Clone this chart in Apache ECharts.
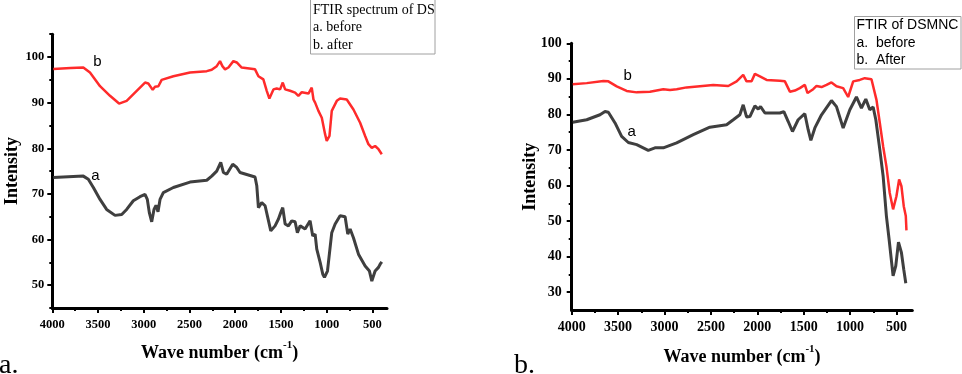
<!DOCTYPE html>
<html>
<head>
<meta charset="utf-8">
<script src="https://cdn.jsdelivr.net/npm/echarts@6/dist/echarts.min.js"></script>
<style>
html,body{margin:0;padding:0;background:#fff;}
#chart{width:962px;height:374px;}
</style>
</head>
<body>
<div id="chart"></div>
<script>
// ---------- data ----------
// Panel a: FTIR spectrum of DS
const dsBeforeWave = [3989,3661,3606,3551,3478,3406,3314,3241,3187,3114,3041,2986,2961,2939,2913,2888,2866,2844,2822,2786,2676,2494,2311,2257,2202,2158,2129,2093,2027,1983,1947,1783,1764,1746,1710,1673,1648,1611,1564,1527,1502,1480,1454,1418,1382,1345,1320,1290,1236,1181,1152,1126,1108,1071,1042,1024,991,944,907,853,798,769,743,707,652,579,532,506,470,433,415,397];
const dsBeforeInt = [73.6,73.9,73.2,71.4,68.8,66.6,65.3,65.5,66.6,68.5,69.4,69.9,68.8,65.9,63.9,66.6,67.5,66.1,68.8,70.3,71.4,72.6,73.0,73.9,75.0,76.9,74.7,74.3,76.5,75.8,74.7,73.7,71.8,67.0,68.1,67.4,65.2,61.9,63.0,64.5,65.9,67.0,63.4,63.0,64.1,63.9,61.5,63.0,62.3,64.1,60.8,61.2,57.9,55.0,52.4,51.7,53.1,61.5,63.4,65.2,65.0,61.2,62.3,60.4,56.8,54.2,53.1,50.9,53.1,53.9,54.6,55.1];
const dsAfterWave = [3989,3800,3661,3588,3478,3369,3270,3187,3077,2986,2950,2902,2877,2840,2804,2676,2494,2311,2257,2202,2166,2140,2111,2074,2020,1983,1929,1783,1746,1692,1655,1626,1582,1546,1509,1480,1454,1400,1345,1309,1272,1199,1163,1144,1126,1090,1053,1017,999,969,944,889,853,780,707,634,579,543,506,470,433,415,397];
const dsAfterInt = [97.4,97.6,97.7,96.6,93.6,91.5,89.8,90.4,92.6,94.4,94.2,92.8,93.5,93.6,95.0,95.8,96.6,96.9,97.2,98.0,99.1,98.0,97.3,97.7,99.1,98.8,97.7,97.3,95.8,95.1,92.6,90.9,92.9,93.1,92.9,94.4,92.9,92.6,92.2,91.5,92.3,92.0,93.3,90.7,90.0,88.2,86.7,83.1,81.6,82.7,88.2,90.4,90.9,90.7,88.5,85.6,82.7,80.9,80.1,80.5,79.8,79.9,78.7];

// Panel b: FTIR of DSMNC
const mncBeforeWave = [3989,3838,3695,3641,3605,3533,3462,3390,3300,3175,3103,3013,2869,2690,2511,2331,2259,2188,2152,2116,2080,2026,1990,1965,1918,1757,1714,1667,1621,1560,1488,1452,1423,1380,1308,1201,1147,1075,1003,932,878,831,788,752,723,680,644,609,580,537,508,479,447,422,400];
const mncBeforeInt = [77.8,78.5,79.9,80.8,80.6,77.6,73.8,72.1,71.5,69.9,70.6,70.6,72.0,74.3,76.4,77.1,78.5,79.9,82.7,79.3,79.4,82.4,81.5,82.2,80.4,80.4,80.8,78.0,75.2,78.5,80.2,75.7,72.7,76.2,79.9,83.9,82.2,76.2,81.3,84.9,81.8,84.3,81.3,82.1,78.5,70.1,62.6,51.4,44.9,34.6,37.4,44.1,41.1,36.4,32.5];
const mncAfterWave = [3989,3838,3659,3605,3515,3408,3300,3157,3013,2941,2869,2762,2475,2313,2223,2152,2116,2062,2026,1972,1900,1757,1703,1649,1595,1542,1488,1459,1398,1362,1308,1254,1201,1147,1075,1021,967,896,842,770,752,716,680,644,609,573,537,501,472,447,422,400,393];
const mncAfterInt = [88.5,88.8,89.4,89.3,87.9,86.6,86.2,86.4,87.1,86.9,87.1,87.6,88.3,88.0,89.3,91.1,89.3,89.3,91.4,90.7,89.7,89.5,89.3,86.4,86.7,87.4,88.3,86.0,87.1,88.0,87.7,88.3,89.0,87.9,87.4,84.9,89.3,89.7,90.2,89.9,89.7,84.1,77.6,71.0,65.4,57.9,53.3,57.0,61.7,59.8,54.2,51.4,47.4];

// tick labels
const xTickLabels = [500,1000,1500,2000,2500,3000,3500,4000];
const leftYTickLabels = [50,60,70,80,90,100];
const rightYTickLabels = [30,40,50,60,70,80,90,100];

const xTitle = 'Wave number (cm';
const yTitle = 'Intensity';
const legendA = ['FTIR spectrum of DS','a. before','b. after'];
const legendB = ['FTIR of DSMNC','a.  before','b.  After'];

// ---------- chart ----------
const SERIF = 'Liberation Serif, Times New Roman, serif';
const SANS = 'Liberation Sans, Arial, sans-serif';
const RED = '#ff2b2b';
const GRAY = '#3f3f3f';
const TICK = {color:'#000', width:2};

function pairs(w, v){ return w.map((x,i)=>[x, v[i]]); }
const plain = v => String(v);

function xName(gap){
  return {
    name:'{n|' + xTitle + '}{s|-1}{n|)}', nameLocation:'middle', nameGap:gap,
    nameTextStyle:{rich:{
      n:{fontFamily:SERIF, fontWeight:'bold', fontSize:18, color:'#000', lineHeight:22, verticalAlign:'bottom'},
      s:{fontFamily:SERIF, fontWeight:'bold', fontSize:11, color:'#000', lineHeight:12, verticalAlign:'top'}
    }}
  };
}
function yName(gap){
  return {name:yTitle, nameLocation:'middle', nameRotate:90, nameGap:gap,
    nameTextStyle:{fontFamily:SERIF, fontWeight:'bold', fontSize:18, color:'#000'}};
}
function legendBox(x, y, w, h, lines, font, x0, y0){
  const children = [{type:'rect', shape:{x:x, y:y, width:w, height:h}, style:{fill:'#fff', stroke:'#a0a0a0', lineWidth:1}}];
  lines.forEach((t,i)=>{
    children.push({type:'text', x:x0, y:y0 + i*17.5, style:{text:t, font:font, fill:'#000', textVerticalAlign:'middle', textAlign:'left'}});
  });
  return {type:'group', children:children};
}
function lab(t, x, y, font){
  return {type:'text', x:x, y:y, style:{text:t, font:font, fill:'#000', textAlign:'center', textVerticalAlign:'middle'}};
}
const AXLINE = {show:true, onZero:false, lineStyle:{color:'#000', width:3}};
const HIDDENLINE = {show:true, onZero:false, lineStyle:{color:'#000', width:1, opacity:0}};

const chart = echarts.init(document.getElementById('chart'), null, {renderer:'canvas'});
chart.setOption({
  animation:false,
  backgroundColor:'#fff',
  grid:[
    // 0: left data grid (x 4000..340, y 45..105)
    {left:52.3, right:575, top:34.2, bottom:66},
    // 1: left tick helper (x 4000..500)
    {left:52.3, right:589.6, top:34.2, bottom:66},
    // 2: right data grid (x 4000..330, y 25..100)
    {left:571.7, right:49.7, top:43.3, bottom:64},
    // 3: right tick helper (x 4000..500, y 30..100)
    {left:571.7, right:65.5, top:43.3, bottom:81.8}
  ],
  xAxis:[
    Object.assign({type:'value', gridIndex:0, min:340, max:4000, inverse:true, position:'bottom',
      axisLine:AXLINE, axisTick:{show:false}, axisLabel:{show:false}, splitLine:{show:false}}, xName(32)),
    {type:'value', gridIndex:1, min:500, max:4000, interval:500, inverse:true, position:'bottom',
      axisLine:HIDDENLINE, axisTick:{show:true, length:5, lineStyle:TICK},
      minorTick:{show:true, splitNumber:2, length:3, lineStyle:TICK},
      axisLabel:{formatter:plain, fontFamily:SERIF, fontWeight:'bold', fontSize:12.5, color:'#000', margin:10},
      splitLine:{show:false}},
    Object.assign({type:'value', gridIndex:2, min:330, max:4000, inverse:true, position:'bottom',
      axisLine:AXLINE, axisTick:{show:false}, axisLabel:{show:false}, splitLine:{show:false}}, xName(34)),
    {type:'value', gridIndex:3, min:500, max:4000, interval:500, inverse:true, position:'bottom', offset:17.8,
      axisLine:HIDDENLINE, axisTick:{show:true, length:5, lineStyle:TICK},
      minorTick:{show:true, splitNumber:2, length:3, lineStyle:TICK},
      axisLabel:{formatter:plain, fontFamily:SERIF, fontWeight:'bold', fontSize:14, color:'#000', margin:10},
      splitLine:{show:false}}
  ],
  yAxis:[
    // ticks counted from 45 every 10 -> 45,55,...,105 (short); minor ticks fall on 50..100 (long)
    Object.assign({type:'value', gridIndex:0, min:45, max:105, interval:10, position:'left',
      axisLine:AXLINE, axisTick:{show:true, length:3, lineStyle:TICK},
      minorTick:{show:true, splitNumber:2, length:5, lineStyle:TICK},
      axisLabel:{customValues:leftYTickLabels, formatter:plain, fontFamily:SERIF, fontWeight:'bold', fontSize:12.5, color:'#000', margin:8},
      splitLine:{show:false}, minorSplitLine:{show:false}}, yName(28)),
    {type:'value', gridIndex:1, min:45, max:105, show:false},
    Object.assign({type:'value', gridIndex:2, min:25, max:100, position:'left',
      axisLine:AXLINE, axisTick:{show:false}, axisLabel:{show:false}, splitLine:{show:false}}, yName(32)),
    {type:'value', gridIndex:3, min:30, max:100, interval:10, position:'left',
      axisLine:HIDDENLINE, axisTick:{show:true, length:5, lineStyle:TICK},
      minorTick:{show:true, splitNumber:2, length:3, lineStyle:TICK},
      axisLabel:{formatter:plain, fontFamily:SERIF, fontWeight:'bold', fontSize:14, color:'#000', margin:10},
      splitLine:{show:false}}
  ],
  series:[
    {type:'line', xAxisIndex:0, yAxisIndex:0, data:pairs(dsAfterWave, dsAfterInt), showSymbol:false, lineStyle:{color:RED, width:2.5}, silent:true},
    {type:'line', xAxisIndex:0, yAxisIndex:0, data:pairs(dsBeforeWave, dsBeforeInt), showSymbol:false, lineStyle:{color:GRAY, width:3}, silent:true},
    {type:'line', xAxisIndex:2, yAxisIndex:2, data:pairs(mncAfterWave, mncAfterInt), showSymbol:false, lineStyle:{color:RED, width:2.5}, silent:true},
    {type:'line', xAxisIndex:2, yAxisIndex:2, data:pairs(mncBeforeWave, mncBeforeInt), showSymbol:false, lineStyle:{color:GRAY, width:3}, silent:true}
  ],
  graphic:[
    legendBox(310.5, -1, 124.5, 55, legendA, '14px ' + SERIF, 313, 10),
    legendBox(854.5, 16.5, 106.5, 52.5, legendB, '14px ' + SANS, 856.5, 25.5),
    lab('b', 97.3, 61.7, '15px ' + SANS),
    lab('a', 95.3, 175.5, '15px ' + SANS),
    lab('b', 627.7, 76, '15px ' + SANS),
    lab('a', 631.7, 131.7, '15px ' + SANS),
    {type:'text', x:-1, y:366, style:{text:'a.', font:'28px ' + SERIF, fill:'#000', textVerticalAlign:'middle', textAlign:'left'}},
    {type:'text', x:514, y:366, style:{text:'b.', font:'28px ' + SERIF, fill:'#000', textVerticalAlign:'middle', textAlign:'left'}}
  ]
});
</script>
</body>
</html>
